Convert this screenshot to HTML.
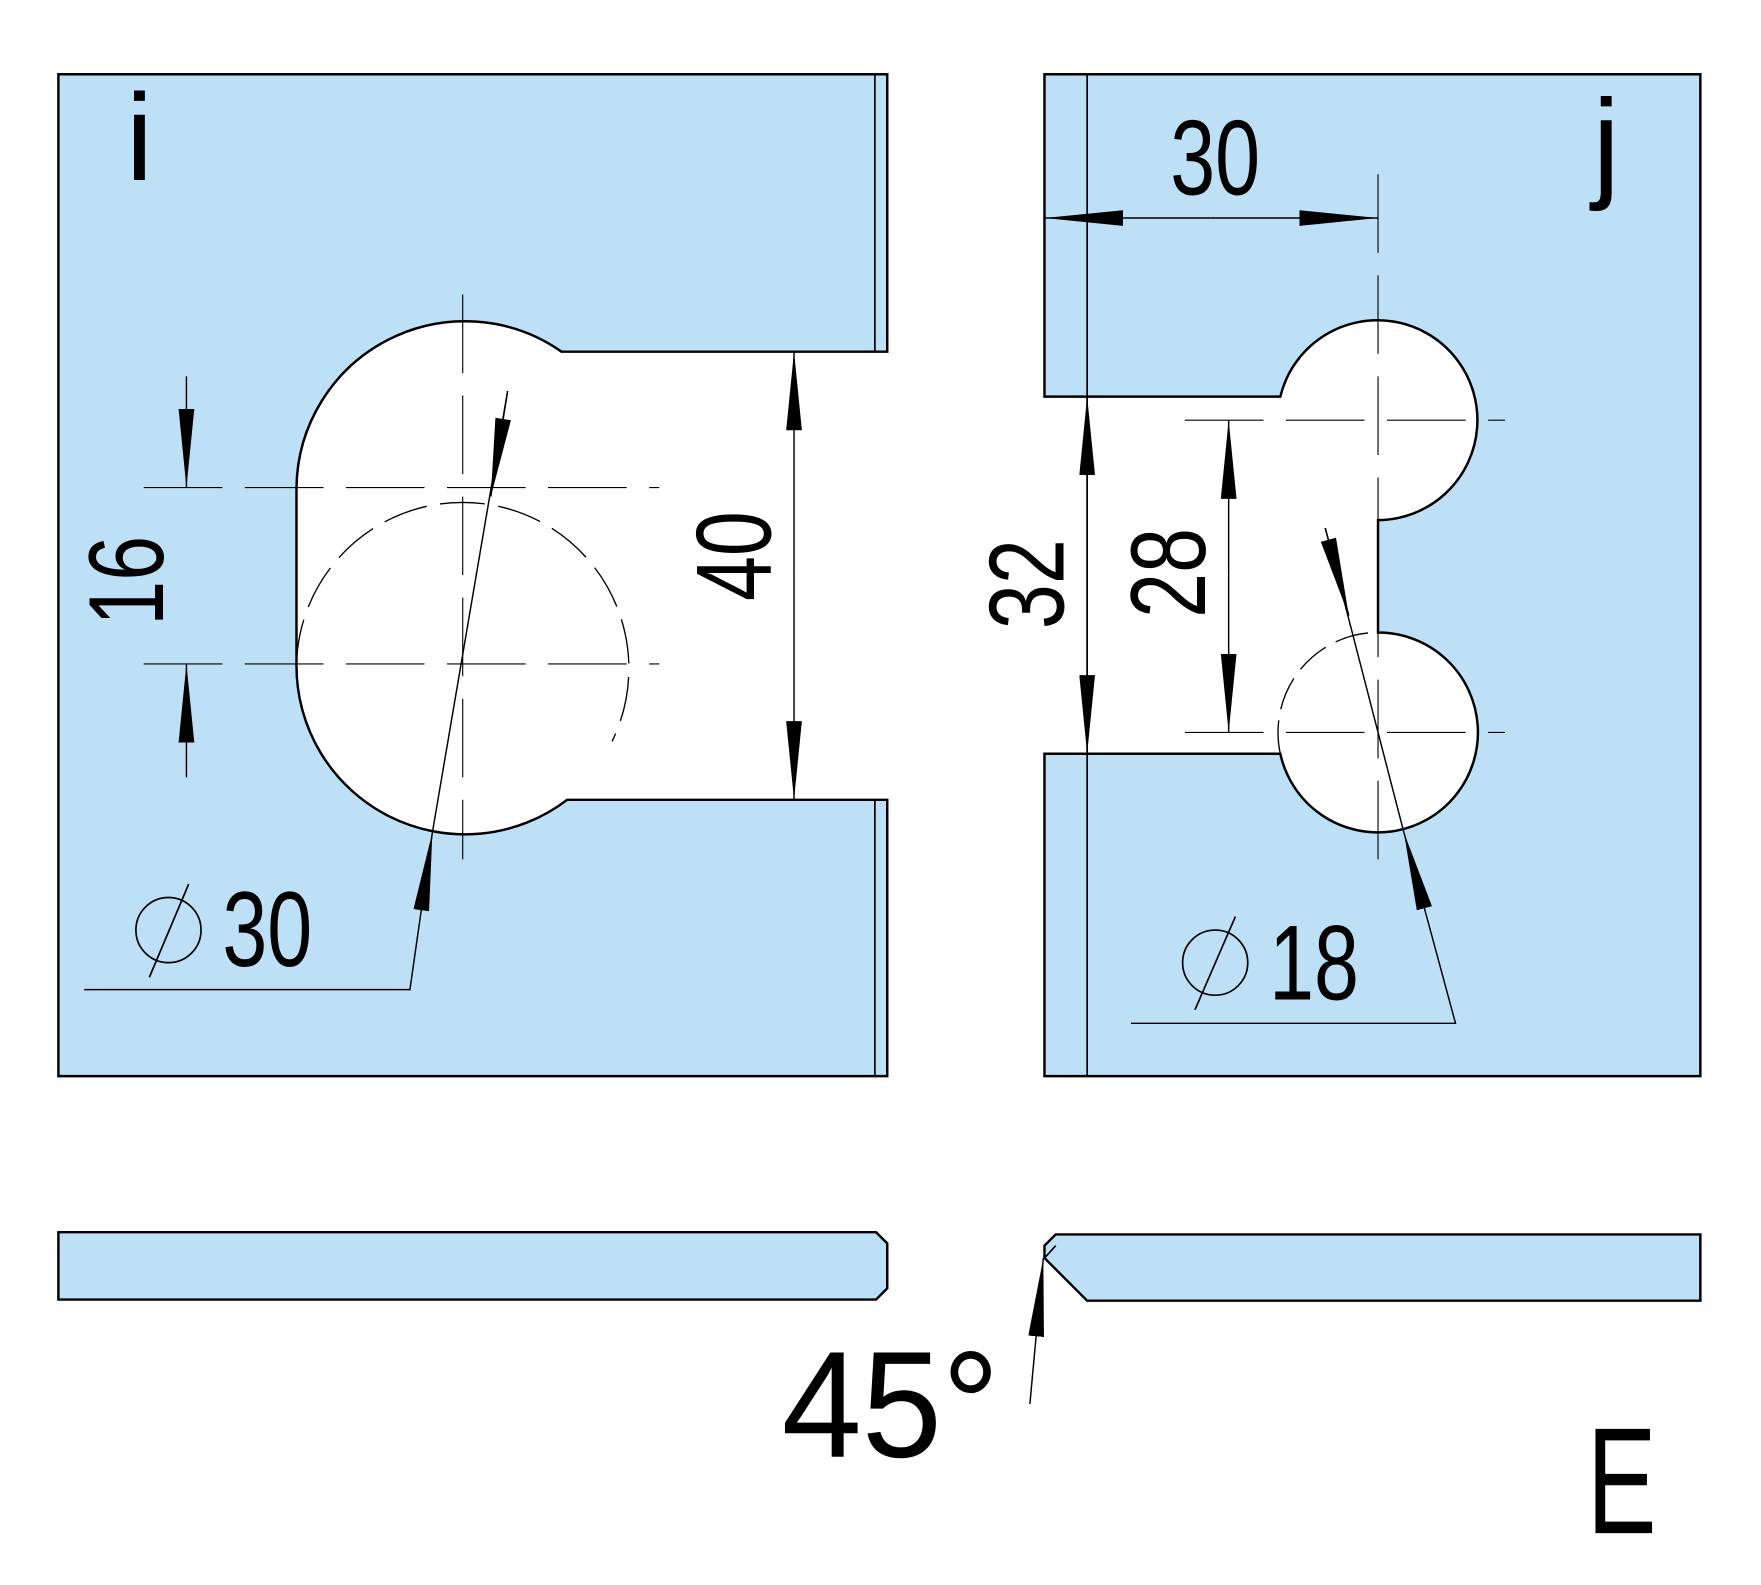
<!DOCTYPE html>
<html><head><style>html,body{margin:0;padding:0;background:#fff}svg{display:block}</style></head><body>
<svg width="1761" height="1585" viewBox="0 0 1568 1411" xmlns="http://www.w3.org/2000/svg" font-family="Liberation Sans, sans-serif">
<defs>
<marker id="a" viewBox="0 0 70 14" refX="70" refY="7" markerWidth="70" markerHeight="14" markerUnits="userSpaceOnUse" orient="auto"><path d="M0,0 L70,7 L0,14 Z" fill="#000"/></marker>
</defs>
<g stroke="#000" stroke-width="2.2" fill="#bde0f6">
<path d="M52,66 H790 V313 H500 A150,150 0 0 0 264,434 V591 A150,150 0 0 0 505,712 H790 V958 H52 Z"/>
<path d="M930,66 H1514 V958 H930 V671 H1140 A89,89 0 1 0 1227,563 V463 A89,89 0 1 0 1140,353 H930 Z"/>
<path d="M52,1097 H780 L790,1107 V1147 L780,1157 H52 Z"/>
<path d="M940,1099 H1514 V1158 H968 L930,1120 V1109 Z"/>
</g>
<g stroke="#000" fill="none">
<line x1="779" y1="66" x2="779" y2="313" stroke-width="1.5"/>
<line x1="779" y1="712" x2="779" y2="958" stroke-width="1.5"/>
<line x1="968" y1="66" x2="968" y2="958" stroke-width="1.5"/>
<line x1="930" y1="1120" x2="940" y2="1109" stroke-width="1.5"/>
<path d="M264,591 A148,148 0 1 1 545,660" stroke-width="1.2" stroke-dasharray="40,12"/>
<path d="M1140,671 A89,89 0 0 1 1227,563" stroke-width="1.2" stroke-dasharray="30,10"/>
<g stroke-width="1" stroke-dasharray="70,20">
<line x1="412" y1="262" x2="412" y2="765"/>
<line x1="128" y1="434" x2="587" y2="434"/>
<line x1="128" y1="591" x2="587" y2="591"/>
<line x1="1227" y1="155" x2="1227" y2="765"/>
<line x1="1055" y1="374" x2="1340" y2="374"/>
<line x1="1055" y1="652" x2="1340" y2="652"/>
</g>
<g stroke-width="1.3">
<line x1="166" y1="335" x2="166" y2="434" marker-end="url(#a)"/>
<line x1="166" y1="692" x2="166" y2="591" marker-end="url(#a)"/>
<line x1="707" y1="512" x2="707" y2="313" marker-end="url(#a)"/>
<line x1="707" y1="512" x2="707" y2="712" marker-end="url(#a)"/>
<polyline points="75,881 365,881 385,741" marker-end="url(#a)"/>
<line x1="385" y1="741" x2="452" y2="348"/>
<line x1="452" y1="348" x2="437" y2="442" marker-end="url(#a)"/>
<line x1="1078" y1="194" x2="930" y2="194" marker-end="url(#a)"/>
<line x1="1078" y1="194" x2="1227" y2="194" marker-end="url(#a)"/>
<line x1="968" y1="512" x2="968" y2="353" marker-end="url(#a)"/>
<line x1="968" y1="512" x2="968" y2="671" marker-end="url(#a)"/>
<line x1="1094" y1="512" x2="1094" y2="374" marker-end="url(#a)"/>
<line x1="1094" y1="512" x2="1094" y2="652" marker-end="url(#a)"/>
<polyline points="1007,911 1296,911 1250,741" marker-end="url(#a)"/>
<line x1="1250" y1="741" x2="1180" y2="470"/>
<line x1="1180" y1="470" x2="1201" y2="548" marker-end="url(#a)"/>
<line x1="917" y1="1250" x2="929" y2="1120" marker-end="url(#a)"/>
<circle cx="150" cy="828" r="29" stroke-width="1.5"/>
<line x1="133" y1="870" x2="168" y2="787" stroke-width="1.5"/>
<circle cx="1082" cy="857" r="29" stroke-width="1.5"/>
<line x1="1064" y1="899" x2="1100" y2="816" stroke-width="1.5"/>
</g>
</g>
<g fill="#000" font-size="95">
<text x="198" y="860" textLength="80" lengthAdjust="spacingAndGlyphs">30</text>
<text x="1130" y="890" textLength="80" lengthAdjust="spacingAndGlyphs">18</text>
<text x="1042" y="173" textLength="80" lengthAdjust="spacingAndGlyphs">30</text>
<text transform="translate(145,517) rotate(-90)" text-anchor="middle" textLength="80" lengthAdjust="spacingAndGlyphs">16</text>
<text transform="translate(686,495) rotate(-90)" text-anchor="middle" textLength="80" lengthAdjust="spacingAndGlyphs">40</text>
<text transform="translate(947,520) rotate(-90)" text-anchor="middle" textLength="80" lengthAdjust="spacingAndGlyphs">32</text>
<text transform="translate(1073,510) rotate(-90)" text-anchor="middle" textLength="80" lengthAdjust="spacingAndGlyphs">28</text>
<text x="112" y="160" font-size="110">i</text>
<text x="1418" y="165" font-size="110">j</text>
<text x="696" y="1297" font-size="135" textLength="194" lengthAdjust="spacingAndGlyphs">45°</text>
<text x="1413" y="1365" font-size="135" textLength="62" lengthAdjust="spacingAndGlyphs">E</text>
</g>
</svg>
</body></html>
